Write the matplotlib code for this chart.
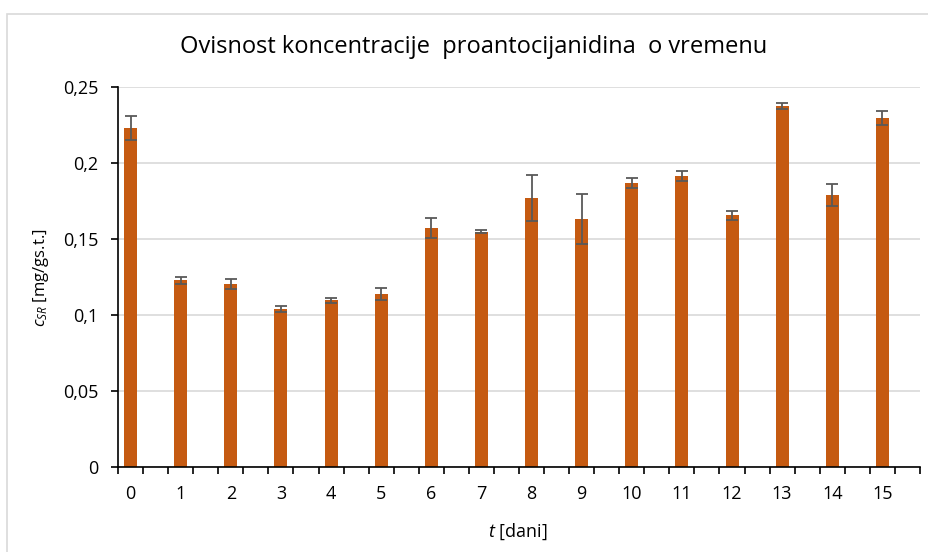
import matplotlib.pyplot as plt
import numpy as np
from matplotlib.patches import Rectangle

plt.rcParams['font.family'] = ['Open Sans', 'DejaVu Sans']
plt.rcParams['mathtext.fontset'] = 'custom'
plt.rcParams['mathtext.it'] = 'Open Sans:italic'
plt.rcParams['mathtext.rm'] = 'Open Sans'

# data
days = list(range(16))
conc = [0.2232, 0.1228, 0.1204, 0.1037, 0.1097, 0.1138, 0.1572, 0.1548,
        0.1768, 0.1632, 0.1868, 0.1917, 0.1656, 0.2375, 0.1792, 0.2296]
err = [0.0080, 0.0022, 0.0036, 0.0019, 0.0015, 0.0038, 0.0066, 0.0010,
       0.0150, 0.0163, 0.0031, 0.0033, 0.0031, 0.0023, 0.0072, 0.0044]
y_ticks = [0, 0.05, 0.1, 0.15, 0.2, 0.25]
y_tick_labels = ['0', '0,05', '0,1', '0,15', '0,2', '0,25']

fig = plt.figure(figsize=(9.29, 5.52), dpi=100)
ax = fig.add_axes([118 / 929, 1 - 467 / 552, 802 / 929, 380 / 552])

# chart border (right and bottom edges fall outside the image)
fig.patches.append(Rectangle((7 / 929, -0.1), 1.2, (552 - 14) / 552 + 0.1,
                             transform=fig.transFigure, fill=False,
                             edgecolor='#D9D9D9', linewidth=1.2))

ax.bar(days, conc, width=0.26, color='#C55A11', zorder=2)
ax.errorbar(days, conc, yerr=err, fmt='none', ecolor='#595959',
            elinewidth=1.3, capsize=4, capthick=1.3, zorder=3)

ax.set_xlim(-0.25, 15.75)
ax.set_ylim(0, 0.25)
ax.set_yticks(y_ticks)
ax.set_yticklabels(y_tick_labels)
ax.set_xticks(days)
ax.set_xticklabels([str(d) for d in days])
ax.set_xticks(np.arange(-0.25, 15.76, 0.5), minor=True)
ax.tick_params(axis='x', which='major', length=0, pad=13, labelsize=13)
ax.tick_params(axis='x', which='minor', length=5, width=1.2, direction='out')
ax.tick_params(axis='y', length=5, width=1.2, direction='out', pad=9, labelsize=13)

ax.grid(axis='y', color='#D9D9D9', linewidth=1.2, zorder=0)
ax.set_axisbelow(True)
for side in ['top', 'right']:
    ax.spines[side].set_visible(False)
for side in ['left', 'bottom']:
    ax.spines[side].set_linewidth(1.2)
    ax.spines[side].set_zorder(4)

fig.text(474 / 929, 1 - 47 / 552, 'Ovisnost koncentracije  proantocijanidina  o vremenu',
         ha='center', va='center', fontsize=17)
fig.text(518 / 929, 1 - 532 / 552, '$t$ [dani]', ha='center', va='center', fontsize=13)
fig.text(41 / 929, 1 - 278 / 552, '$c_{SR}$ [mg/gs.t.]', ha='center', va='center',
         rotation=90, fontsize=12)

fig.savefig('out.png', dpi=100)
